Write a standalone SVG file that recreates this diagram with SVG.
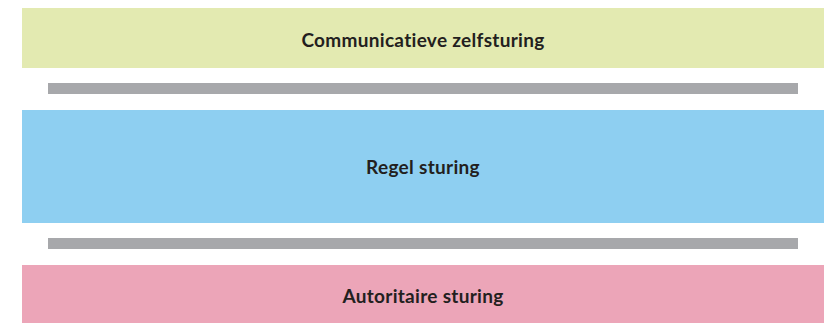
<svg xmlns="http://www.w3.org/2000/svg" width="832" height="323" viewBox="0 0 832 323">
<style>
.lbl{font-family:Lato,"Open Sans","Liberation Sans",sans-serif;font-weight:bold;font-size:19px;letter-spacing:0.3px;fill:#231f20;text-anchor:middle}
.bar{fill:#a7a8ab}
</style>
<rect width="832" height="323" fill="#ffffff"/>
<g id="communicatieve">
<rect x="22" y="8" width="802" height="60" fill="#e3eab1"/>
<text class="lbl" x="423" y="47">Communicatieve zelfsturing</text>
</g>
<g id="connectors">
<rect class="bar" x="48" y="83" width="750" height="11"/>
<rect class="bar" x="48" y="238" width="750" height="11"/>
</g>
<g id="regel">
<rect x="22" y="110" width="802" height="113" fill="#8ecff1"/>
<text class="lbl" x="423" y="174">Regel sturing</text>
</g>
<g id="autoritaire">
<rect x="22" y="265" width="802" height="58" fill="#eca5b8"/>
<text class="lbl" x="423" y="303">Autoritaire sturing</text>
</g>
</svg>
